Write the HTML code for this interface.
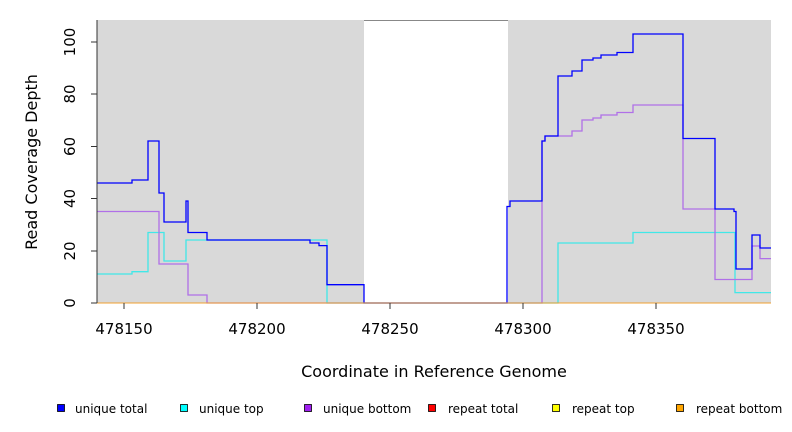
<!DOCTYPE html><html><head><style>body{margin:0;background:#fff}svg{display:block;font-family:"DejaVu Sans","Liberation Sans",sans-serif}</style></head><body>
<svg width="792" height="432" viewBox="0 0 792 432">
<rect x="97" y="20" width="674" height="283" fill="#d9d9d9"/>
<rect x="364" y="21" width="144" height="282" fill="#fff"/>
<line x1="364" y1="20.5" x2="508" y2="20.5" stroke="#888" stroke-width="1"/>
<g fill="none" stroke-width="1.3">
<polyline stroke="#40e8e8" points="97,274 132,274 132,271.7 148,271.7 148,232.5 164,232.5 164,261 186,261 186,240 327,240 327,303 558,303 558,243 633,243 633,232.5 735,232.5 735,292.6 771,292.6"/>
<polyline stroke="#b070e8" points="97,211.5 159,211.5 159,264 188,264 188,295 207,295 207,303 542,303 542,141 545,141 545,136 572,136 572,131 582,131 582,120 593,120 593,118 601,118 601,115 617,115 617,112.5 633,112.5 633,105 683,105 683,209 715,209 715,279.5 752,279.5 752,246 760,246 760,258.6 771,258.6"/>
<polyline stroke="#0000ff" points="97,183 132,183 132,180 148,180 148,141 159,141 159,193 164,193 164,222 186,222 186,201 188,201 188,232.5 207,232.5 207,240 310,240 310,243 319,243 319,245.6 327,245.6 327,284.7 364,284.7 364,303 507,303 507,206.5 510,206.5 510,201 542,201 542,141 545,141 545,136 558,136 558,76 572,76 572,71 582,71 582,60 593,60 593,58 601,58 601,55 617,55 617,52.5 633,52.5 633,34 683,34 683,138.5 715,138.5 715,209 734,209 734,211.5 736,211.5 736,269 752,269 752,235 760,235 760,248 771,248"/>
</g>
<line x1="97" y1="303" x2="771" y2="303" stroke="#f0a030" stroke-width="1"/>
<line x1="97" y1="20" x2="97" y2="303" stroke="#333"/>
<g stroke="#333"><line x1="91" y1="303" x2="97" y2="303"/><line x1="91" y1="251" x2="97" y2="251"/><line x1="91" y1="198.5" x2="97" y2="198.5"/><line x1="91" y1="146.5" x2="97" y2="146.5"/><line x1="91" y1="94" x2="97" y2="94"/><line x1="91" y1="42" x2="97" y2="42"/>
<line x1="124" y1="303" x2="124" y2="309"/><line x1="257" y1="303" x2="257" y2="309"/><line x1="390" y1="303" x2="390" y2="309"/><line x1="523" y1="303" x2="523" y2="309"/><line x1="656" y1="303" x2="656" y2="309"/></g>
<g font-size="15" fill="#000" text-anchor="middle">
<text transform="translate(75,303) rotate(-90)">0</text><text transform="translate(75,251) rotate(-90)">20</text><text transform="translate(75,198.5) rotate(-90)">40</text><text transform="translate(75,146.5) rotate(-90)">60</text><text transform="translate(75,94) rotate(-90)">80</text><text transform="translate(75,42) rotate(-90)">100</text>
<text x="124" y="334">478150</text><text x="257" y="334">478200</text><text x="390" y="334">478250</text><text x="523" y="334">478300</text><text x="656" y="334">478350</text></g>
<g font-size="16" fill="#000" text-anchor="middle">
<text x="434" y="377">Coordinate in Reference Genome</text>
<text transform="translate(37,162) rotate(-90)">Read Coverage Depth</text></g>
<g font-size="12" fill="#000" stroke="#000" stroke-width="0.8">
<rect x="57.5" y="404.5" width="7" height="7" fill="#0000ff"/><rect x="180.5" y="404.5" width="7" height="7" fill="#00ffff"/><rect x="304.5" y="404.5" width="7" height="7" fill="#a020f0"/><rect x="428.5" y="404.5" width="7" height="7" fill="#ff0000"/><rect x="552.5" y="404.5" width="7" height="7" fill="#ffff00"/><rect x="676.5" y="404.5" width="7" height="7" fill="#ffa500"/></g>
<g font-size="12" fill="#000"><text x="75" y="413">unique total</text><text x="199" y="413">unique top</text><text x="323" y="413">unique bottom</text><text x="448" y="413">repeat total</text><text x="572" y="413">repeat top</text><text x="696" y="413">repeat bottom</text></g>
</svg></body></html>
